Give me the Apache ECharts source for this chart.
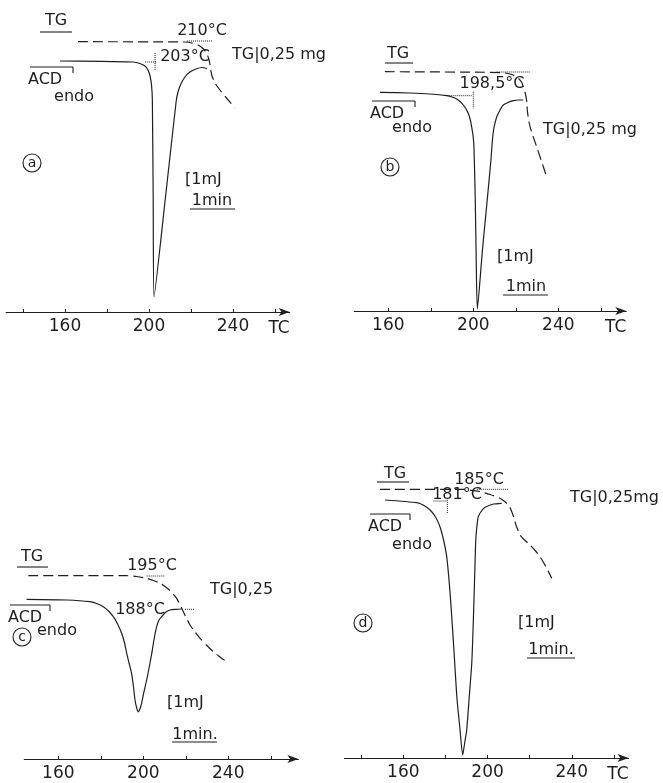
<!DOCTYPE html>
<html>
<head>
<meta charset="utf-8">
<script src="https://cdn.jsdelivr.net/npm/echarts@6/dist/echarts.min.js"></script>
<style>html,body{margin:0;padding:0;background:#fff}#c{width:663px;height:783px}</style>
</head>
<body>
<div id="c"></div>
<script>
// ---- data: temperature (°C) vs. signal (arbitrary units) ----
const tickLabelValues = [160, 200, 240];
const ticksAD = [140, 160, 180, 200, 220, 240, 260];
const ticksBC = [160, 180, 200, 220, 240, 260];

// panel a
const dscA = [[157.6,251],[176.7,250.7],[192.4,250],[195.7,248.5],[198.1,246],[199.5,242],[200.5,236],[201.2,227],[201.6,212],[202.0,112],[202.4,15],[207.7,112],[212.9,210],[213.8,220],[215.2,228],[217.1,235],[219.5,240],[222.4,243],[225.2,244.5],[227.6,243.5]];
const tgA = [[166.2,270.3],[217.1,270],[220.5,269],[223.3,267],[225.7,263.5],[227.4,259],[228.3,254],[228.9,249],[229.3,243],[230,236],[231.4,229],[233.8,222],[237.1,213.5],[241,204]];
const onsetA = [[[218.1,271],[230.5,271]],[[198.1,250],[203.8,250]],[[202.9,259],[202.9,242]]];

// panel b
const dscB = [[156.1,218.7],[170.2,218],[179.6,217],[187.6,215.3],[190,214],[192.2,212],[194,209],[195.3,206],[196.6,202],[197.6,197.7],[198.5,192],[199.2,184.3],[199.9,175],[200.3,164.3],[200.9,114.3],[201.3,61],[201.9,2],[204.3,61],[206.7,114.3],[208.3,151],[209,171],[209.7,183],[211,194],[212.6,201],[214.1,206],[216.3,208.5],[218.8,210.3],[221,211],[223.5,211]];
const tgB = [[158.4,239.3],[207.9,238.7],[214.9,238],[218.7,236],[221.2,232.7],[222.7,229],[223.5,224.3],[224.3,219],[224.8,214.3],[225.3,207],[225.4,201],[225.9,193],[226.7,184.3],[228.1,175],[229.8,164.3],[231.9,151],[234.5,134.3]];
const onsetB = [[[211,239],[226.7,239]],[[187.5,215.3],[199.2,215.3]],[[200,219.3],[200,202.7]]];

// panel c
const dscC = [[145.1,159.7],[164,159],[174.9,157.3],[178.7,155],[181.2,152.3],[183.6,148],[185.9,142.3],[187.9,135],[189.8,125.7],[191.2,116],[192.2,105.7],[193.3,96],[194.5,85.7],[195.4,72],[196.1,59],[196.9,51],[197.6,47.3],[198.4,50],[199.2,55.7],[200.3,67],[201.6,79],[202.8,92],[204,105.7],[205,119],[206.3,132.3],[207.4,139],[208.7,142.3],[210.4,146.5],[212.6,149],[215.4,149.7],[218.1,150]];
const tgC = [[145.9,183.3],[192.2,183.3],[197,182.5],[201.6,180.7],[204.8,178.5],[207.9,175.7],[210.2,172.5],[212.6,168.3],[214.2,164.5],[215.7,160.7],[216.9,156],[218.1,150.7],[219.9,142.5],[222,134],[224.3,127],[226.7,120.7],[229.7,114],[232.9,107.3],[236.1,102],[239.2,97.3]];
const onsetC = [[[201.6,183],[210.2,183]],[[219.6,149.7],[224.3,149.7]]];

// panel d
const dscD = [[151.3,258],[166.4,255.3],[169.8,252.5],[172.7,248],[175.3,241],[177.4,231.3],[179.1,218],[180.6,201.3],[181.9,173],[183,141.3],[184.2,102],[185.4,61.3],[186.8,31],[188.2,3],[189.2,16],[190.1,28],[191.3,61],[192.5,94.7],[193.1,128],[193.6,161.3],[194.1,198],[194.4,218],[194.9,231],[195.6,241.3],[197.1,247],[198.8,250.7],[200.7,252.5],[202.8,254],[206.7,254.7]];
const tgD = [[148.9,268.7],[188.5,268.7],[192.6,267.5],[196.4,266.3],[201.2,263.5],[205.9,259.7],[209.1,254.7],[210.5,251],[211.5,246.3],[212.6,240],[213.5,233],[214.5,227.5],[215.4,223],[217.3,218.5],[220.2,213],[222.6,207.5],[224.9,201.3],[227.8,191],[230.5,179.7]];
const onsetD = [[[194.9,268.7],[209.9,268.7]],[[174.3,257],[180.6,257]],[[180.9,258],[180.9,244.7]]];

// ---- layout ----
const INK = '#1e1e1e';
const FONT = 'DejaVu Sans';
const panels = [
  {left:6.2,   top:12,  width:283.5, xmin:132, xmax:267, ticks:ticksAD, tc:true,  dsc:dscA, tg:tgA, onset:onsetA},
  {left:354.3, top:11,  width:272,   xmin:144, xmax:272, ticks:ticksBC, tc:true,  dsc:dscB, tg:tgB, onset:onsetB},
  {left:24.3,  top:459, width:274.1, xmin:144, xmax:273, ticks:ticksBC, tc:false, dsc:dscC, tg:tgC, onset:onsetC},
  {left:344.4, top:458, width:284.2, xmin:132, xmax:267, ticks:ticksAD, tc:true,  dsc:dscD, tg:tgD, onset:onsetD}
];

const grid = [], xAxis = [], yAxis = [], series = [];
panels.forEach((p, i) => {
  grid.push({left:p.left, top:p.top, width:p.width, height:300, containLabel:false});
  xAxis.push({
    type:'value', gridIndex:i, min:p.xmin, max:p.xmax,
    name: p.tc ? 'TC' : '', nameLocation:'end', nameGap:0,
    nameTextStyle:{align:'right', verticalAlign:'top', padding:[8,0,0,0], fontSize:17, color:INK, fontFamily:FONT},
    axisLine:{show:true, symbol:['none','arrow'], symbolSize:[6,11], lineStyle:{color:INK, width:1.1}},
    axisTick:{show:true, inside:true, length:3, customValues:p.ticks, lineStyle:{color:INK, width:1}},
    axisLabel:{show:true, customValues:tickLabelValues, fontSize:17, color:INK, fontFamily:FONT, margin:6},
    splitLine:{show:false}
  });
  yAxis.push({type:'value', gridIndex:i, min:0, max:300, show:false});
  series.push({type:'line', xAxisIndex:i, yAxisIndex:i, data:p.dsc, symbol:'none', smooth:0.2,
    lineStyle:{color:INK, width:1.2}, silent:true});
  series.push({type:'line', xAxisIndex:i, yAxisIndex:i, data:p.tg, symbol:'none', smooth:0.2,
    lineStyle:{color:INK, width:1.2, type:[10,5]}, silent:true});
  p.onset.forEach(seg => {
    series.push({type:'line', xAxisIndex:i, yAxisIndex:i, data:seg, symbol:'none',
      lineStyle:{color:INK, width:1, type:'dotted'}, silent:true});
  });
});

// ---- annotations ----
const g = [];
function txt(x, y, text, align) {
  g.push({type:'text', x:x, y:y, silent:true,
    style:{text:text, fontSize:16, fontFamily:FONT, fill:INK, textAlign:align || 'center', textVerticalAlign:'middle'}});
}
function ln(x1, y1, x2, y2) {
  g.push({type:'line', silent:true, shape:{x1:x1, y1:y1, x2:x2, y2:y2}, style:{stroke:INK, lineWidth:1.1}});
}
function circ(cx, cy, ch) {
  g.push({type:'circle', silent:true, shape:{cx:cx, cy:cy, r:9}, style:{fill:'none', stroke:INK, lineWidth:1.1}});
  g.push({type:'text', x:cx, y:cy, silent:true, style:{text:ch, fontSize:14, fontFamily:FONT, fill:INK, textAlign:'center', textVerticalAlign:'middle'}});
}
function acd(x, y, w) {
  txt(x, y, 'ACD', 'left');
  ln(x + 2, y - 13, x + w, y - 13);
  ln(x + w, y - 13, x + w, y - 7);
}

// a
txt(56, 21, 'TG'); ln(40, 32, 72, 32);
txt(202, 31, '210°C');
txt(185, 57, '203°C');
txt(232, 55, 'TG|0,25 mg', 'left');
acd(28, 80, 45);
txt(74, 97, 'endo');
circ(32, 163, 'a');
txt(185, 180, '[1mJ', 'left');
txt(212, 201, '1min'); ln(190, 209, 235, 209);

// b
txt(398, 54, 'TG'); ln(385, 63, 413, 63);
txt(492, 84, '198,5°C');
txt(543, 130, 'TG|0,25 mg', 'left');
acd(370, 114, 45);
txt(412, 128, 'endo');
circ(390, 167, 'b');
txt(497, 257, '[1mJ', 'left');
txt(526, 287, '1min'); ln(503, 295, 548, 295);

// c
txt(32, 557, 'TG'); ln(17, 567, 48, 567);
txt(152, 566, '195°C');
txt(210, 590, 'TG|0,25', 'left');
txt(140, 610, '188°C');
acd(8, 618, 42);
circ(22, 637, 'c');
txt(37, 631, 'endo', 'left');
txt(167, 703, '[1mJ', 'left');
txt(195, 735, '1min.'); ln(172, 742, 217, 742);

// d
txt(395, 474, 'TG'); ln(377, 482, 409, 482);
txt(479, 480, '185°C');
txt(457, 495, '181°C');
txt(570, 498, 'TG|0,25mg', 'left');
acd(368, 527, 42);
txt(412, 545, 'endo');
circ(363, 623, 'd');
txt(518, 623, '[1mJ', 'left');
txt(551, 650, '1min.'); ln(527, 658, 575, 658);

const chart = echarts.init(document.getElementById('c'), null, {renderer:'canvas'});
chart.setOption({
  backgroundColor:'#fff',
  animation:false,
  grid: grid, xAxis: xAxis, yAxis: yAxis, series: series,
  graphic: g
});
</script>
</body>
</html>
